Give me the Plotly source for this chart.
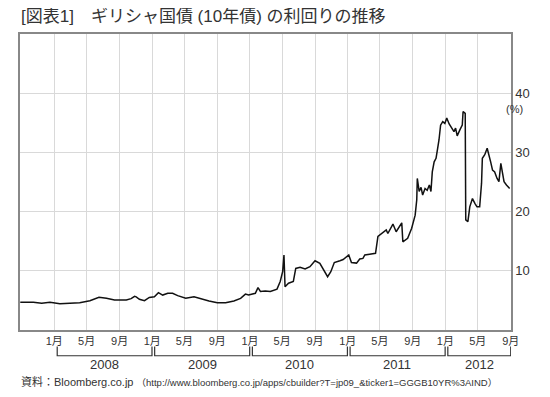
import plotly.graph_objects as go

dates = [
    "2007-08-27", "2007-09-21", "2007-10-15", "2007-11-15", "2007-12-16",
    "2008-01-22", "2008-02-28", "2008-04-05", "2008-05-13", "2008-06-16",
    "2008-07-14", "2008-08-13", "2008-09-26", "2008-10-14", "2008-10-27",
    "2008-11-02", "2008-11-14", "2008-12-03", "2008-12-21", "2009-01-09",
    "2009-01-24", "2009-02-09", "2009-02-28", "2009-03-18", "2009-04-06",
    "2009-05-06", "2009-06-06", "2009-07-01", "2009-08-01", "2009-09-01",
    "2009-10-02", "2009-11-02", "2009-11-27", "2009-12-15", "2009-12-27",
    "2010-01-03", "2010-01-21", "2010-01-31", "2010-02-09", "2010-02-27",
    "2010-03-18", "2010-04-12", "2010-04-24", "2010-05-03", "2010-05-08",
    "2010-05-12", "2010-05-25", "2010-06-12", "2010-06-21", "2010-07-07",
    "2010-07-26", "2010-08-13", "2010-09-01", "2010-09-19", "2010-10-05",
    "2010-10-18", "2010-10-30", "2010-11-12", "2010-12-03", "2010-12-15",
    "2011-01-05", "2011-01-15", "2011-02-03", "2011-02-15", "2011-02-27",
    "2011-03-06", "2011-03-24", "2011-04-15", "2011-04-24", "2011-05-07",
    "2011-05-25", "2011-05-31", "2011-06-19", "2011-07-01", "2011-07-22",
    "2011-07-26", "2011-08-13", "2011-08-28", "2011-09-03", "2011-09-10",
    "2011-09-16", "2011-09-18", "2011-09-25", "2011-10-02", "2011-10-08",
    "2011-10-17", "2011-10-25", "2011-11-02", "2011-11-08", "2011-11-13",
    "2011-11-20", "2011-11-27", "2011-12-03", "2011-12-08", "2011-12-14",
    "2011-12-22", "2011-12-30", "2012-01-06", "2012-01-15", "2012-01-24",
    "2012-02-02", "2012-02-08", "2012-02-14", "2012-02-24", "2012-03-04",
    "2012-03-07", "2012-03-15", "2012-03-17", "2012-03-25", "2012-04-01",
    "2012-04-11", "2012-04-20", "2012-04-28", "2012-05-08", "2012-05-15",
    "2012-05-18", "2012-05-27", "2012-06-05", "2012-06-12", "2012-06-18",
    "2012-06-25", "2012-07-03", "2012-07-12", "2012-07-19", "2012-07-26",
    "2012-08-01", "2012-08-07", "2012-08-16", "2012-08-28",
]
yields = [
    4.70, 4.73, 4.67, 4.50, 4.67,
    4.45, 4.50, 4.60, 4.95, 5.52,
    5.35, 5.07, 5.07, 5.30, 5.70,
    5.60, 5.18, 4.95, 5.50, 5.60,
    6.30, 5.90, 6.20, 6.20, 5.80,
    5.35, 5.60, 5.24, 4.90, 4.60,
    4.60, 4.90, 5.35, 6.07, 5.90,
    6.00, 6.20, 7.15, 6.50, 6.60,
    6.50, 6.90, 8.20, 9.85, 12.67,
    7.30, 7.90, 8.20, 10.40, 10.60,
    10.30, 10.70, 11.70, 11.26, 10.00,
    9.00, 9.85, 11.40, 11.70, 11.90,
    12.67, 11.40, 11.30, 12.00, 12.10,
    12.67, 12.80, 12.95, 15.80, 16.30,
    16.90, 16.30, 17.90, 16.60, 18.10,
    14.90, 15.50, 17.20, 18.30, 19.40,
    22.00, 25.60, 23.40, 24.10, 22.80,
    23.90, 23.60, 24.50, 23.40, 26.70,
    28.40, 29.00, 30.70, 32.10, 34.60,
    35.20, 34.90, 35.80, 34.80, 34.10,
    33.50, 34.10, 32.80, 33.80, 34.60,
    36.90, 36.60, 18.60, 18.30, 20.80,
    22.20, 21.40, 20.80, 20.80, 24.80,
    29.00, 29.60, 30.70, 29.60, 28.40,
    27.00, 26.70, 25.60, 25.05, 28.15,
    26.50, 25.05, 24.50, 23.90,
]

x_tick_dates = [
    "2008-01-01", "2008-05-01", "2008-09-01",
    "2009-01-01", "2009-05-01", "2009-09-01",
    "2010-01-01", "2010-05-01", "2010-09-01",
    "2011-01-01", "2011-05-01", "2011-09-01",
    "2012-01-01", "2012-05-01", "2012-09-01",
]
x_tick_labels = ["1月", "5月", "9月"] * 5

y_ticks = [10, 20, 30, 40]

years = ["2008", "2009", "2010", "2011", "2012"]
year_starts = ["2008-01-12", "2009-01-10", "2010-01-10", "2011-01-10", "2012-01-10"]
year_ends = ["2008-12-31", "2009-12-31", "2010-12-31", "2011-12-31", "2012-09-01"]
year_centers = ["2008-07-06", "2009-07-06", "2010-07-06", "2011-07-06", "2012-05-06"]

FONT = "Liberation Sans, Noto Sans CJK JP, sans-serif"
TXT = "#333333"

fig = go.Figure()
fig.add_trace(go.Scatter(
    x=dates, y=yields, mode="lines",
    line=dict(color="#111111", width=1.5),
    hoverinfo="skip", showlegend=False,
))

b_top, b_bot = -0.056, -0.087
for s, e, c, yr in zip(year_starts, year_ends, year_centers, years):
    fig.add_shape(type="path", xref="x", yref="paper",
                  path=f"M {s} {b_top} L {s} {b_bot} L {e} {b_bot} L {e} {b_top}",
                  line=dict(color="#333333", width=1.2))
    fig.add_annotation(x=c, y=-0.116, xref="x", yref="paper", text=yr,
                       showarrow=False, yanchor="middle",
                       font=dict(family=FONT, size=13, color=TXT))

fig.add_annotation(x=1.028, y=0.747, xref="paper", yref="paper", text="(%)",
                   showarrow=False, yanchor="middle",
                   font=dict(family=FONT, size=11, color=TXT))

fig.add_annotation(
    x=-0.002, y=1.06, xref="paper", yref="paper", xanchor="left", yanchor="middle",
    text="[図表1]　ギリシャ国債 (10年債) の利回りの推移", showarrow=False,
    font=dict(family=FONT, size=17, color=TXT),
)
fig.add_annotation(
    x=-0.002, y=-0.175, xref="paper", yref="paper", xanchor="left", yanchor="middle",
    text="資料：Bloomberg.co.jp <span style='font-size:9.5px'>（http://www.bloomberg.co.jp/apps/cbuilder?T=jp09_&amp;ticker1=GGGB10YR%3AIND）</span>",
    showarrow=False, font=dict(family=FONT, size=11, color=TXT),
)

fig.update_layout(
    width=542, height=389,
    margin=dict(l=10, r=39, t=26, b=67),
    paper_bgcolor="white", plot_bgcolor="white",
    font=dict(family=FONT, color=TXT),
    xaxis=dict(
        type="date", range=["2007-08-26", "2012-09-02"],
        tickvals=x_tick_dates, ticktext=x_tick_labels,
        tickfont=dict(size=11, color=TXT),
        showgrid=True, gridcolor="#d9d9d9", gridwidth=1,
        showline=True, linecolor="#888888", linewidth=1.5, mirror=True,
        ticks="", zeroline=False,
    ),
    yaxis=dict(
        range=[0, 50], tickvals=y_ticks, side="right",
        tickfont=dict(size=13, color=TXT),
        showgrid=True, gridcolor="#d9d9d9", gridwidth=1,
        showline=True, linecolor="#888888", linewidth=1.5, mirror=True,
        ticks="", zeroline=False,
    ),
)

fig.write_html("out.html")
